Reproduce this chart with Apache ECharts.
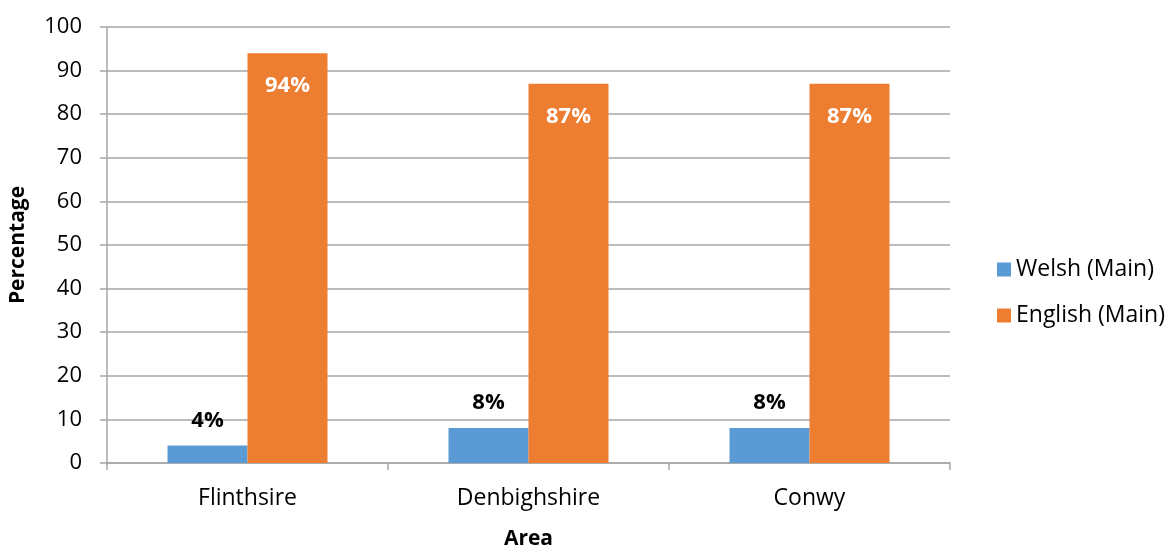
<!DOCTYPE html>
<html><head><meta charset="utf-8">
<script src="https://cdn.jsdelivr.net/npm/echarts@6/dist/echarts.min.js"></script>
<style>html,body{margin:0;padding:0;background:#fff}#c{width:1169px;height:547px}</style>
</head><body><div id="c"></div>
<script>
const categories = ['Flinthsire', 'Denbighshire', 'Conwy'];
const welsh = [4, 8, 8];
const english = [94, 87, 87];
const seriesNames = ['Welsh (Main)', 'English (Main)'];
const FONT = 'Open Sans';
const chart = echarts.init(document.getElementById('c'), null, {renderer: 'canvas'});
chart.setOption({
  animation: false,
  textStyle: {fontFamily: FONT},
  grid: {left: 107, right: 219, top: 27, bottom: 84, containLabel: false, outerBoundsMode: 'none'},
  legend: {
    orient: 'vertical', left: 992, top: 253, itemWidth: 14, itemHeight: 14, itemGap: 23,
    icon: 'rect',
    textStyle: {fontFamily: FONT, fontSize: 23, color: '#000'},
    data: seriesNames
  },
  xAxis: {
    type: 'category', data: categories,
    name: 'Area', nameLocation: 'middle', nameGap: 66,
    nameTextStyle: {fontFamily: FONT, fontSize: 21, fontWeight: 'bold', color: '#000'},
    axisLine: {lineStyle: {color: '#a6a6a6', width: 1.5}},
    axisTick: {show: true, length: 7, lineStyle: {color: '#a6a6a6', width: 1.5}},
    axisLabel: {fontFamily: FONT, fontSize: 23, color: '#000', margin: 24}
  },
  yAxis: {
    type: 'value', min: 0, max: 100, interval: 10,
    name: 'Percentage', nameLocation: 'middle', nameGap: 78, nameRotate: 90,
    nameTextStyle: {fontFamily: FONT, fontSize: 21, fontWeight: 'bold', color: '#000'},
    axisLine: {show: true, lineStyle: {color: '#a6a6a6', width: 1.5}},
    axisTick: {show: true, length: 7, lineStyle: {color: '#a6a6a6', width: 1.5}},
    axisLabel: {fontFamily: FONT, fontSize: 22, color: '#000', margin: 25},
    splitLine: {lineStyle: {color: '#a6a6a6', width: 1.5}}
  },
  series: [
    {
      name: seriesNames[0], type: 'bar', data: welsh, barWidth: 80, barGap: '0%',
      itemStyle: {color: '#5b9bd5'},
      label: {show: true, position: 'top', distance: 14, formatter: '{c}%',
        fontFamily: FONT, fontSize: 22, fontWeight: 'bold', color: '#000'}
    },
    {
      name: seriesNames[1], type: 'bar', data: english, barWidth: 80,
      itemStyle: {color: '#ed7d31'},
      label: {show: true, position: 'insideTop', distance: 22, formatter: '{c}%',
        fontFamily: FONT, fontSize: 22, fontWeight: 'bold', color: '#fff'}
    }
  ]
});
</script></body></html>
